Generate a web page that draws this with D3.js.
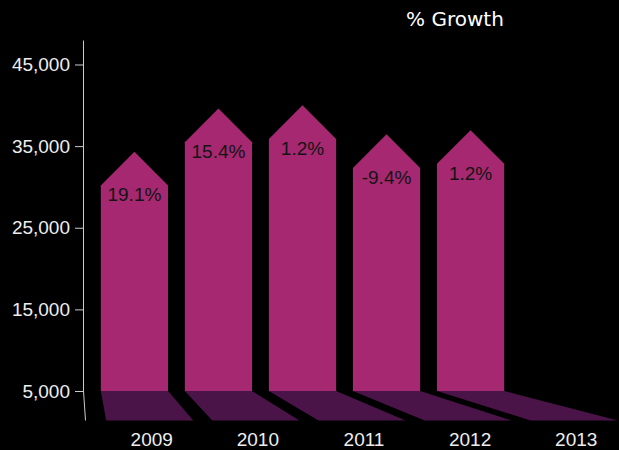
<!DOCTYPE html>
<html>
<head>
<meta charset="utf-8">
<script src="https://cdn.jsdelivr.net/npm/d3@7"></script>
<style>
    body { margin: 0; background: #000; }
    svg { display: block; background: #000; }
</style>
</head>
<body>
<div id="chart-area"></div>
<script>
// values (value = tip of each arrow)
const years = ['2009', '2010', '2011', '2012', '2013']
const sales = [34300, 39600, 40000, 36450, 36950]
const growth = ['19.1%', '15.4%', '1.2%', '-9.4%', '1.2%']
const yTicks = [5000, 15000, 25000, 35000, 45000]

const width = 619
const height = 450
const floorY = 420.5

const svg = d3.select('#chart-area').append('svg')
    .attr('width', width)
    .attr('height', height)

const yScale = d3.scaleLinear()
    .domain([5000, 48000])
    .range([391, 40])

// bars stand on the back edge of the floor
const xScale = d3.scaleBand()
    .domain(years)
    .range([84, 521])
    .paddingInner(0.2)
    .paddingOuter(0.2)

// front edge of the floor, wider (perspective)
const xFloor = d3.scaleBand()
    .domain(years)
    .range([85, 639])
    .paddingInner(0.18)
    .paddingOuter(0.2)

const data = years.map((y, i) => ({ year: y, value: sales[i], growth: growth[i] }))
const base = yScale(5000)
const bw = xScale.bandwidth()

// floor shadows
svg.selectAll('.shadow')
    .data(data).enter().append('path')
    .attr('class', 'shadow')
    .attr('fill', '#4b1449')
    .attr('d', d => {
        const x0 = xScale(d.year)
        const f0 = xFloor(d.year)
        return `M${x0},${base}H${x0 + bw}L${f0 + xFloor.bandwidth()},${floorY}H${f0}Z`
    })

// arrow bars
svg.selectAll('.bar')
    .data(data).enter().append('path')
    .attr('class', 'bar')
    .attr('fill', '#a62870')
    .attr('d', d => {
        const x0 = xScale(d.year)
        const tip = yScale(d.value)
        const shoulder = tip + bw / 2
        return `M${x0},${base}V${shoulder}L${x0 + bw / 2},${tip}L${x0 + bw},${shoulder}V${base}Z`
    })

svg.selectAll('.growth')
    .data(data).enter().append('text')
    .attr('class', 'growth')
    .attr('x', d => xScale(d.year) + bw / 2)
    .attr('y', d => yScale(d.value) + bw / 2 + 16)
    .attr('text-anchor', 'middle')
    .attr('font-family', 'Liberation Sans, Arial, Helvetica, sans-serif')
    .attr('font-size', '19px')
    .attr('fill', '#141414')
    .text(d => d.growth)

// y axis
const yAxisCall = d3.axisLeft(yScale)
    .tickValues(yTicks)
    .tickSize(8)
    .tickPadding(5)
    .tickSizeOuter(0)
    .tickFormat(d3.format(','))
const yAxis = svg.append('g')
    .attr('class', 'y axis')
    .attr('transform', 'translate(83, 0)')
    .call(yAxisCall)
yAxis.select('.domain').attr('stroke', '#ccc')
yAxis.selectAll('line').attr('stroke', '#ccc')
yAxis.selectAll('text')
    .attr('fill', '#eee')
    .attr('font-family', 'Liberation Sans, Arial, Helvetica, sans-serif')
    .attr('font-size', '19px')

// axis continues down onto the floor
svg.append('line')
    .attr('x1', 83.5).attr('y1', base)
    .attr('x2', xFloor.range()[0] + 0.5).attr('y2', floorY)
    .attr('stroke', '#ccc')

// x axis labels on the floor
const xAxisCall = d3.axisBottom(xFloor).tickSize(0).tickPadding(12)
const xAxis = svg.append('g')
    .attr('class', 'x axis')
    .attr('transform', `translate(2, ${floorY})`)
    .call(xAxisCall)
xAxis.select('.domain').remove()
xAxis.selectAll('text')
    .attr('fill', '#eee')
    .attr('font-family', 'Liberation Sans, Arial, Helvetica, sans-serif')
    .attr('font-size', '19px')

svg.append('text')
    .attr('x', 455)
    .attr('y', 26)
    .attr('text-anchor', 'middle')
    .attr('font-family', 'DejaVu Sans, sans-serif')
    .attr('font-size', '20px')
    .attr('fill', '#fff')
    .text('% Growth')
</script>
</body>
</html>
